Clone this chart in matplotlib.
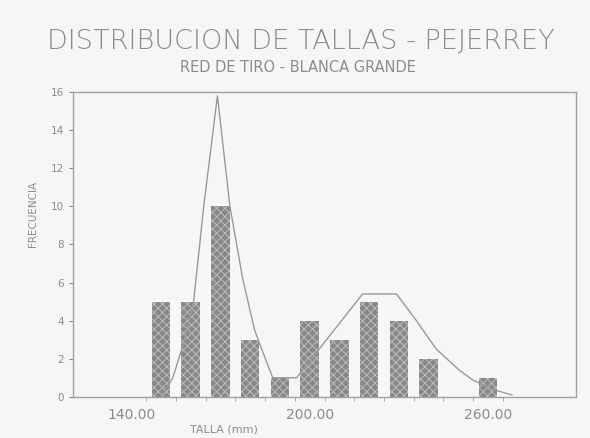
import matplotlib

matplotlib.use("Agg")
import matplotlib.pyplot as plt

# histogram bins (talla, mm) and counts
tallas = [150, 160, 170, 180, 190, 200, 210, 220, 230, 240, 260]
frecuencia = [5, 5, 10, 3, 1, 4, 3, 5, 4, 2, 1]

# smoothed curve
curva_x = [150, 154, 158, 161, 164.4, 169, 173.2, 177.5, 181.5, 185.6, 187.6,
           191, 195.6, 205.7, 217.8, 229.2, 235.9, 242.6, 250.3, 254.7, 261.4, 268]
curva_y = [0, 1, 3, 5, 10, 15.8, 10, 6.2, 3.5, 1.8, 1.0,
           1.0, 1.0, 3.0, 5.4, 5.4, 4.0, 2.5, 1.4, 0.9, 0.4, 0.1]

x_ticks = [140, 200, 260]
y_ticks = [0, 2, 4, 6, 8, 10, 12, 14, 16]

GRIS = "#8c8c8c"
FONDO = "#f6f6f6"

plt.rcParams["hatch.linewidth"] = 0.7

fig = plt.figure(figsize=(5.9, 4.38), dpi=100, facecolor=FONDO)
ax = fig.add_axes([0.124, 0.094, 0.852, 0.696])
ax.set_facecolor(FONDO)

ax.bar(tallas, frecuencia, width=6.2, color="#888888", edgecolor="#bdbdbd",
       linewidth=0, hatch="xxxx")
ax.plot(curva_x, curva_y, color="#9a9a9a", linewidth=1.0)

ax.set_xlim(120.5, 289.5)
ax.set_ylim(0, 16)
ax.set_xticks(x_ticks)
ax.set_xticklabels([f"{v:.2f}" for v in x_ticks])
ax.set_xticks(range(145, 270, 10), minor=True)
ax.set_yticks(y_ticks)

for s in ax.spines.values():
    s.set_color("#a0a0a0")
    s.set_linewidth(1.0)

ax.tick_params(axis="x", colors=GRIS, labelsize=10, length=0, pad=8)
ax.tick_params(axis="x", which="minor", length=3, color="#a0a0a0", direction="out")
ax.tick_params(axis="y", colors=GRIS, labelsize=7.5, length=3, direction="out")

ax.set_xlabel("TALLA (mm)", color=GRIS, fontsize=8, labelpad=2)
ax.xaxis.set_label_coords(0.3, -0.09)
ax.set_ylabel("FRECUENCIA", color=GRIS, fontsize=7.5, labelpad=8)
ax.yaxis.set_label_coords(-0.07, 0.6)

fig.text(0.51, 0.905, "DISTRIBUCION DE TALLAS - PEJERREY", ha="center", va="center",
         fontsize=19.5, color=GRIS, fontweight="light")
fig.text(0.505, 0.845, "RED DE TIRO - BLANCA GRANDE", ha="center", va="center",
         fontsize=10.5, color=GRIS)

fig.savefig("out.png", dpi=100, facecolor=FONDO)
